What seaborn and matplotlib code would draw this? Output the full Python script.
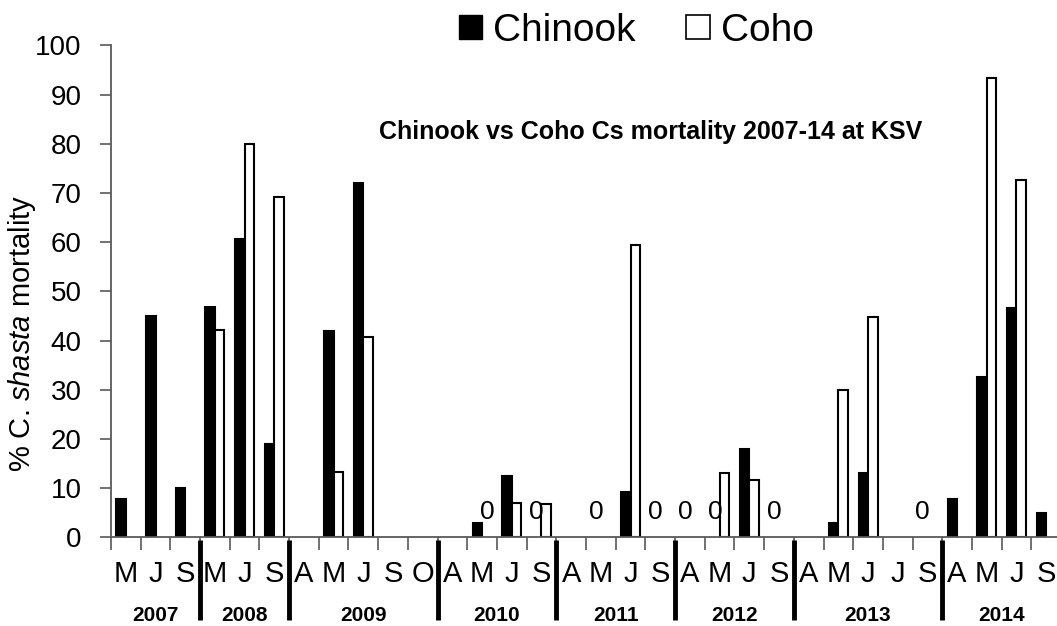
import numpy as np
import pandas as pd
import matplotlib.pyplot as plt
import matplotlib.transforms as mtransforms
from matplotlib.patches import Patch
import seaborn as sns

# ================================
# DATA
# ================================
nan = np.nan
years = ["2007", "2008", "2009", "2010", "2011", "2012", "2013", "2014"]
year_sizes = [3, 3, 5, 4, 4, 4, 5, 4]
month_labels = ["M", "J", "S",
                "M", "J", "S",
                "A", "M", "J", "S", "O",
                "A", "M", "J", "S",
                "A", "M", "J", "S",
                "A", "M", "J", "S",
                "A", "M", "J", "J", "S",
                "A", "M", "J", "S"]
chinook = [7.7, 45.0, 10.0,
           46.8, 60.6, 19.0,
           nan, 41.9, 72.1, nan, nan,
           nan, 3.0, 12.5, 0.0,
           nan, 0.0, 9.3, 0.0,
           0.0, 0.0, 17.9, 0.0,
           nan, 3.0, 13.0, nan, 0.0,
           7.7, 32.5, 46.7, 5.0]
coho = [nan, nan, nan,
        42.1, 79.9, 69.1,
        nan, 13.2, 40.8, nan, nan,
        nan, 0.0, 7.0, 6.8,
        nan, nan, 59.4, nan,
        nan, 13.1, 11.6, nan,
        nan, 29.9, 44.8, nan, nan,
        nan, 93.3, 72.6, nan]

slots = [f"{i:02d}" for i in range(len(month_labels))]
df = pd.DataFrame({
    "slot": slots * 2,
    "species": ["Chinook"] * len(slots) + ["Coho"] * len(slots),
    "value": chinook + coho,
}).dropna()

# ================================
# STYLE
# ================================
sns.set_style("ticks")
plt.rcParams["font.family"] = ["Liberation Sans", "DejaVu Sans"]
plt.rcParams["mathtext.fontset"] = "custom"
plt.rcParams["mathtext.rm"] = "Liberation Sans"
plt.rcParams["mathtext.it"] = "Liberation Sans:italic"
for key in ["text.color", "axes.labelcolor", "xtick.labelcolor", "ytick.labelcolor"]:
    plt.rcParams[key] = "black"

axis_grey = "#595959"

fig = plt.figure(figsize=(10.57, 6.26), dpi=100)
ax = fig.add_axes([0.105, 0.1417, 0.8988, 0.7859])

sns.barplot(data=df, x="slot", y="value", hue="species", order=slots,
            hue_order=["Chinook", "Coho"],
            palette={"Chinook": "black", "Coho": "white"},
            edgecolor="black", linewidth=1.5, width=0.64,
            legend=False, ax=ax)

# "0" labels for zero-valued samples
for bar in list(ax.patches):
    if bar.get_height() == 0:
        ax.text(bar.get_x() + bar.get_width() / 2, 5.2, "0",
                ha="center", va="center", fontsize=19)
        bar.set_visible(False)

ax.set_ylim(0, 100)
ax.set_xlim(-0.5, len(slots) - 0.5)
ax.set_yticks(np.arange(0, 101, 10))
ax.tick_params(axis="y", labelsize=20, length=8, width=1.2,
               color=axis_grey, pad=13)

ax.set_xticks(range(len(slots)))
ax.set_xticklabels(month_labels)
ax.tick_params(axis="x", which="major", length=0, labelsize=21, pad=16)
ax.set_xticks(np.arange(-0.5, len(slots)), minor=True)
ax.tick_params(axis="x", which="minor", length=9, width=1.2, color=axis_grey)

ax.set_xlabel("")
ax.set_ylabel("% C. $\\it{shasta}$ mortality", fontsize=21)
ax.yaxis.set_label_coords(-0.077, 0.415)

sns.despine(ax=ax)
for side in ["left", "bottom"]:
    ax.spines[side].set_color(axis_grey)
    ax.spines[side].set_linewidth(1.3)

# year separators and labels below the axis
trans = mtransforms.blended_transform_factory(ax.transData, ax.transAxes)
bounds = np.cumsum(year_sizes)
starts = np.concatenate([[0], bounds[:-1]])
for b in bounds[:-1]:
    ax.plot([b - 0.5, b - 0.5], [-0.005, -0.168], transform=trans,
            color="black", lw=3.5, clip_on=False, solid_capstyle="butt")
for yr, s, n in zip(years, starts, year_sizes):
    ax.text(s + (n - 1) / 2, -0.158, yr, transform=trans, ha="center",
            va="center", fontsize=15, fontweight="bold")

# title inside the plot and legend on top
fig.text(0.616, 0.7775, "Chinook vs Coho Cs mortality 2007-14 at KSV",
         ha="center", va="baseline", fontsize=18, fontweight="bold")

handles = [Patch(facecolor="black", edgecolor="black", lw=1),
           Patch(facecolor="white", edgecolor="black", lw=1.2)]
fig.legend(handles, ["Chinook", "Coho"], loc="center",
           bbox_to_anchor=(0.602, 0.951), ncol=2, frameon=False,
           fontsize=28, handlelength=0.6, handleheight=0.6,
           handletextpad=0.28, columnspacing=1.3, borderpad=0)

plt.savefig("out.png", dpi=100)
